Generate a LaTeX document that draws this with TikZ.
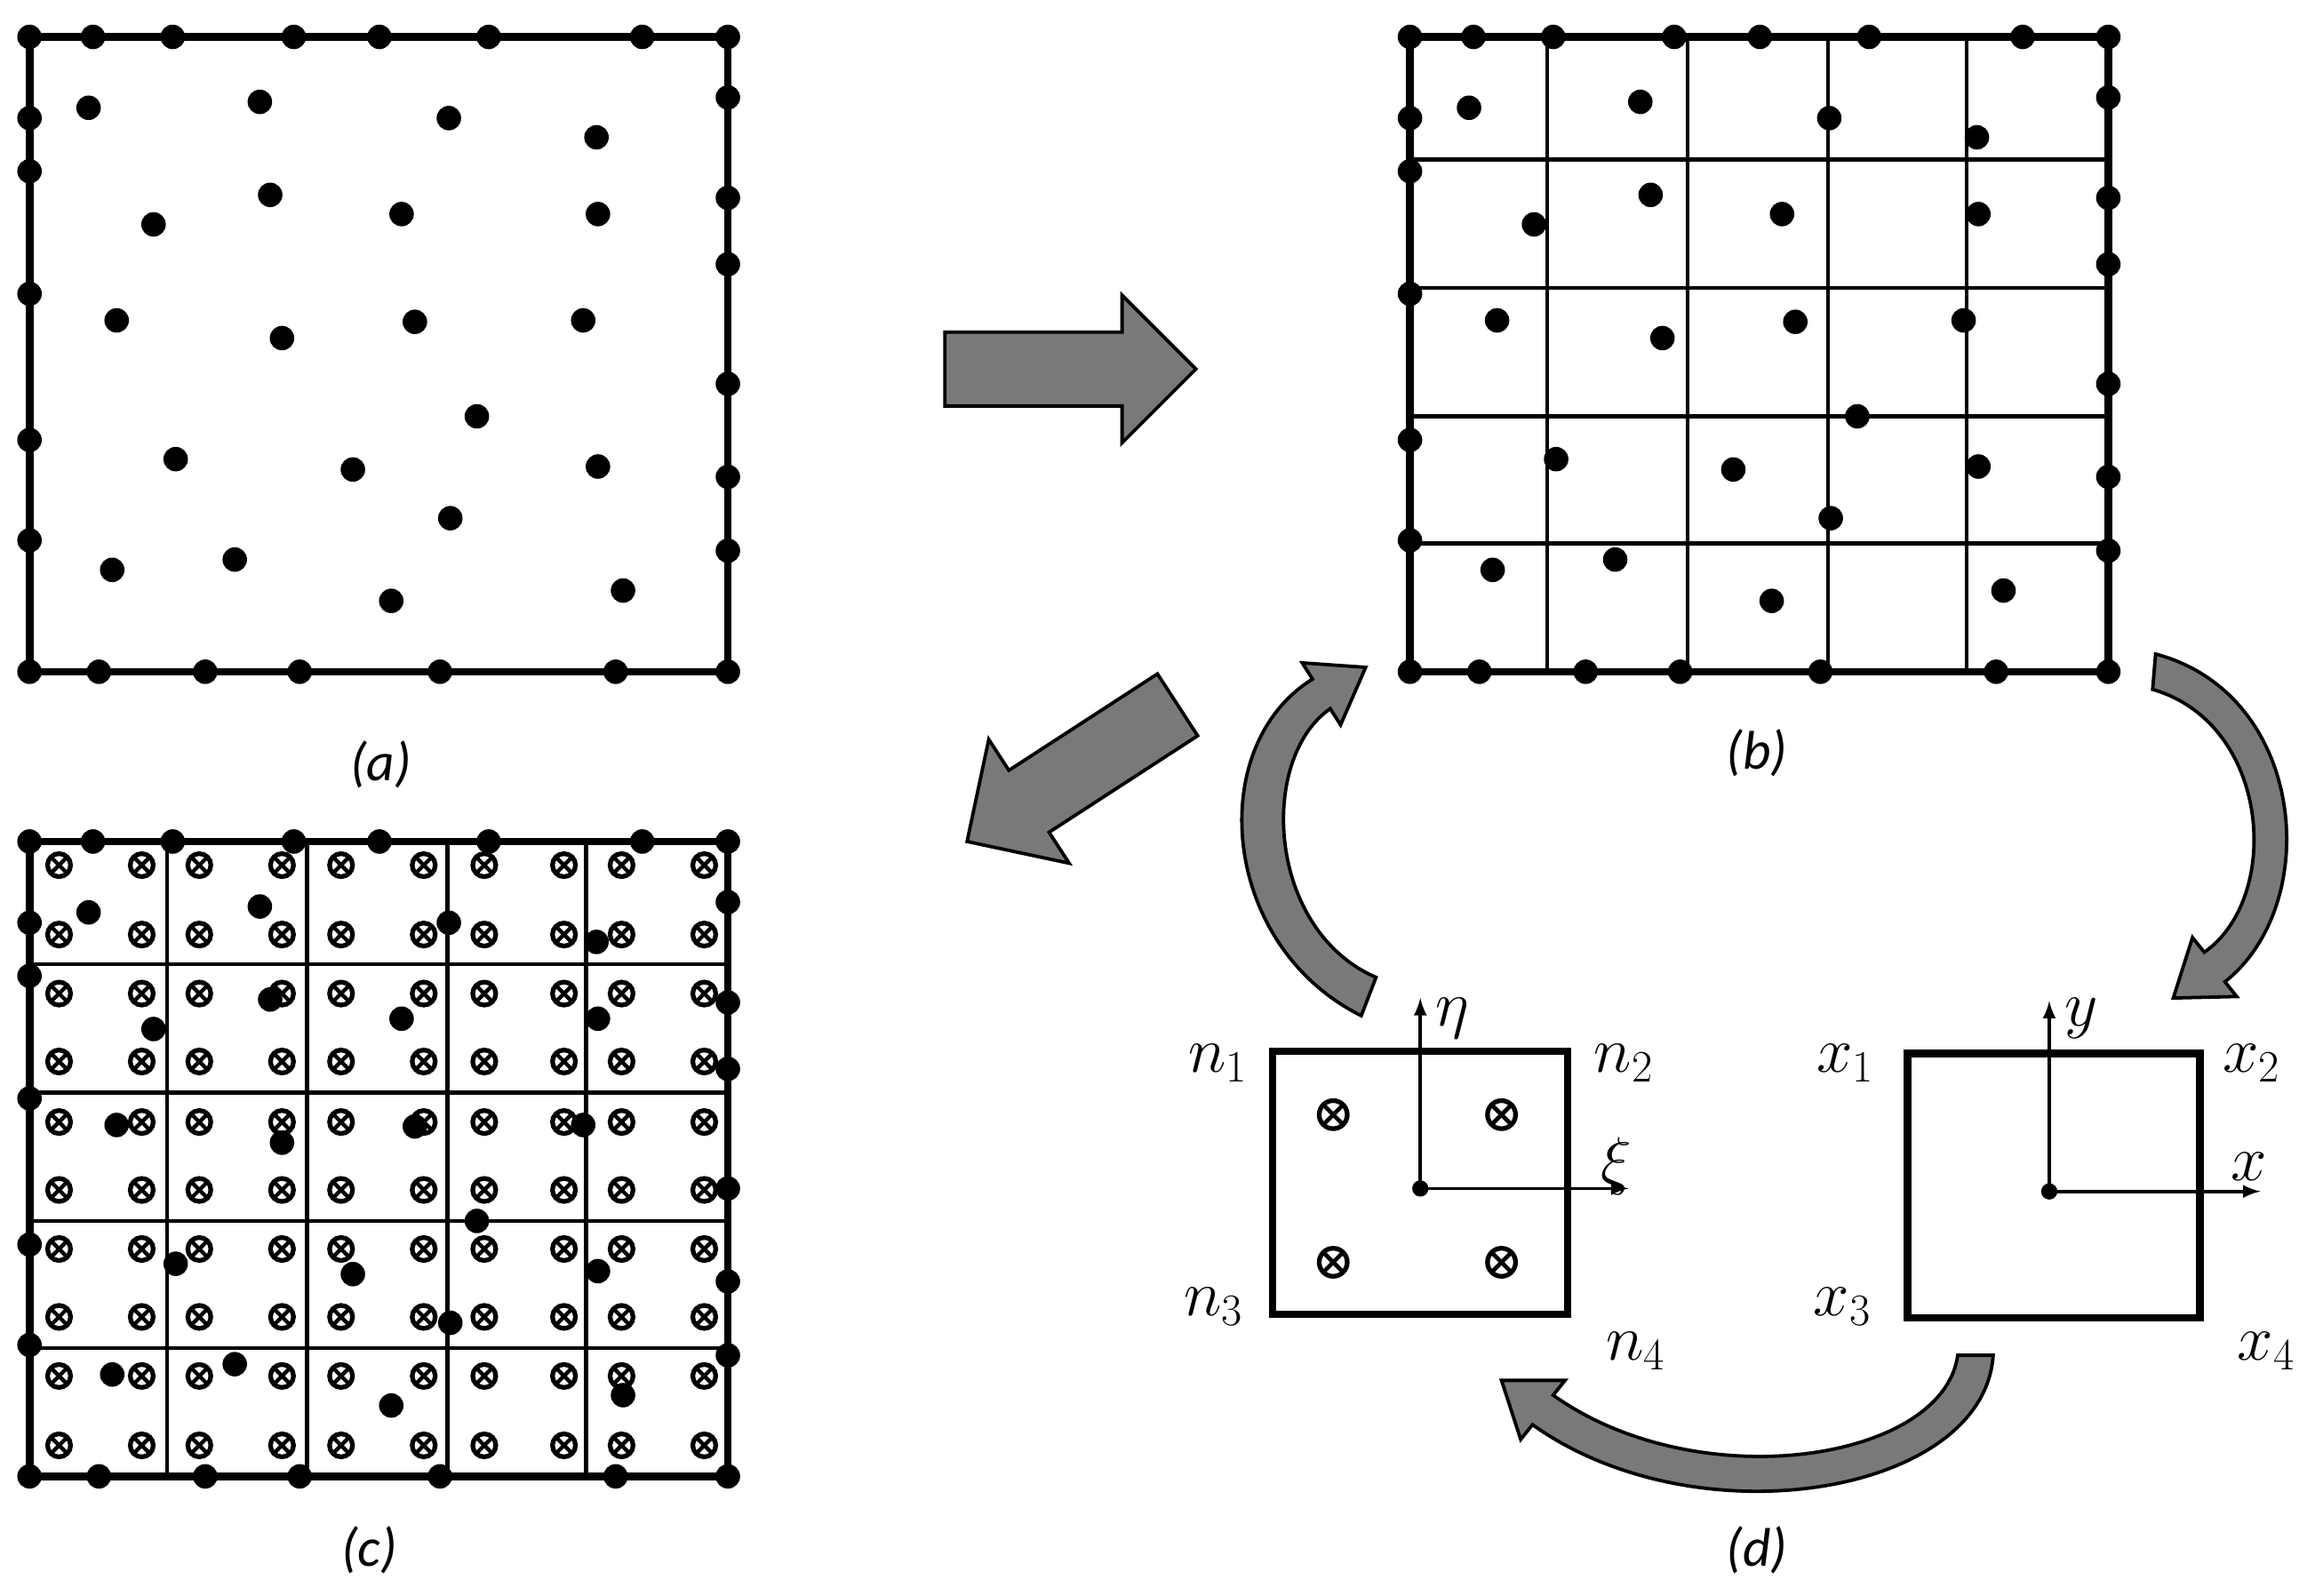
\documentclass[tikz,border=0pt]{standalone}
\usepackage{fontspec}
\setmainfont{Carlito}
\begin{document}
\begin{tikzpicture}[x=0.02cm,y=-0.02cm,
  frame/.style={line width=3pt},
  grid/.style={line width=1.5pt},
  blockarrow/.style={fill=gray!95!black,draw=black,line width=1.3pt,line join=miter},
  caption/.style={font=\fontsize{21}{25}\selectfont\itshape},
  mlabel/.style={font=\fontsize{24}{28}\selectfont},
  otimes/.pic={\draw[line width=1.8pt] (0,0) circle (7.8);
     \draw[line width=1.5pt] (-5.5,-5.5)--(5.5,5.5) (-5.5,5.5)--(5.5,-5.5);},
  botimes/.pic={\draw[line width=1.8pt] (0,0) circle (9.5);
     \draw[line width=1.6pt] (-6.7,-6.7)--(6.7,6.7) (-6.7,6.7)--(6.7,-6.7);}]
\useasboundingbox (0,0) rectangle (1568,1081);
\newcommand{\bdots}{%
  \foreach \x in {0,43,97,179,237,311,415,473} \fill (\x,0) circle (8.3);
  \foreach \x in {0,47,119,183,278,397,473} \fill (\x,430) circle (8.3);
  \foreach \y in {55,91,174,273,341} \fill (0,\y) circle (8.3);
  \foreach \y in {41,109,154,235,298,348} \fill (473,\y) circle (8.3);}
\newcommand{\idots}{%
  \foreach \p in {(40,48),(156,44),(284,55),(384,68),(84,127),(163,107),(252,120),(385,120),(59,192),(171,204),(261,193),(375,192),(303,257),(99,286),(219,293),(385,291),(285,326),(56,361),(139,354),(245,382),(402,375)} \fill \p circle (8.3);}
\newcommand{\gridl}{%
  \foreach \x in {93,188,283,377} \draw[grid] (\x,0)--(\x,430);
  \foreach \y in {83,170,257,343} \draw[grid] (0,\y)--(473,\y);}
% (a)
\begin{scope}[shift={(20,25)}]
  \draw[frame] (0,0) rectangle (473,430);
  \bdots \idots
\end{scope}
\node[caption] (ca) at (258,518) {(a)};
% (b)
\begin{scope}[shift={(955,25)}]
  \gridl
  \draw[frame] (0,0) rectangle (473,430);
  \bdots \idots
\end{scope}
\node[caption] (cb) at (1190,510) {(b)};
% (c)
\begin{scope}[shift={(20,570)}]
  \gridl
  \draw[frame] (0,0) rectangle (473,430);
  \foreach \x in {20,76,115,171,211,267,308,362,401,457}
    \foreach \y in {16,63,103,149,190,236,276,322,362,409}
      \pic at (\x,\y) {otimes};
  \bdots \idots
\end{scope}
\node[caption] (cc) at (250,1050) {(c)};
\node[caption] (cd) at (1190,1050) {(d)};
% block arrows
\begin{scope}[shift={(810,250)}]
  \draw[blockarrow] (0,0)--(-50,-50)--(-50,-25)--(-170,-25)--(-170,25)--(-50,25)--(-50,50)--cycle;
\end{scope}
\begin{scope}[shift={(655,570)},rotate=213]
  \draw[blockarrow] (0,0)--(-50,-50)--(-50,-25)--(-170,-25)--(-170,25)--(-50,25)--(-50,50)--cycle;
\end{scope}
% curved arrows
\draw[blockarrow] (922,688) .. controls (826,640) and (816,505) .. (889,460) -- (882,449) -- (925,452) -- (908,491) -- (901,480) .. controls (852,514) and (858,630) .. (932,662) -- cycle;
\draw[blockarrow] (1460,443) .. controls (1562,470) and (1574,612) .. (1507,665) -- (1515,675) -- (1472,676) -- (1485,635) -- (1493,645) .. controls (1546,608) and (1538,490) .. (1458,467) -- cycle;
\draw[blockarrow] (1350,918) .. controls (1344,1012) and (1150,1045) .. (1038,965) -- (1030,975) -- (1017,935) -- (1060,935) -- (1052,945) .. controls (1150,1015) and (1316,990) .. (1326,918) -- cycle;
% (d) left element
\node[draw,line width=2.8pt,minimum width=4cm,minimum height=3.56cm,inner sep=0pt] (nbox) at (962,801) {};
\coordinate (no) at (962,805);
\coordinate (ny) at (962,676);
\coordinate (nx) at (1103,805);
\fill (no) circle (5.5);
\draw[line width=1.3pt,-latex] (no)--(ny);
\draw[line width=1.3pt,-latex] (no)--(nx);
\node[mlabel] (eta) at (984,690) {$\eta$};
\node[mlabel] (xi) at (1095,790) {$\xi$};
\foreach \p in {(903,755),(1017,755),(903,855),(1017,855)} \pic at \p {botimes};
\node[mlabel] (n1) at (825,720) {$n_1$};
\node[mlabel] (n2) at (1100,720) {$n_2$};
\node[mlabel] (n3) at (822,885) {$n_3$};
\node[mlabel] (n4) at (1108,915) {$n_4$};
% (d) right element
\node[draw,line width=2.8pt,minimum width=3.96cm,minimum height=3.58cm,inner sep=0pt] (xbox) at (1391,803) {};
\coordinate (xo) at (1388,807);
\coordinate (xy) at (1388,678);
\coordinate (xx) at (1531,807);
\fill (xo) circle (5.5);
\draw[line width=1.3pt,-latex] (xo)--(xy);
\draw[line width=1.3pt,-latex] (xo)--(xx);
\node[mlabel] (ly) at (1410,690) {$y$};
\node[mlabel] (lx) at (1523,790) {$x$};
\node[mlabel] (x1) at (1250,720) {$x_1$};
\node[mlabel] (x2) at (1525,720) {$x_2$};
\node[mlabel] (x3) at (1248,885) {$x_3$};
\node[mlabel] (x4) at (1535,915) {$x_4$};
\end{tikzpicture}
\end{document}
